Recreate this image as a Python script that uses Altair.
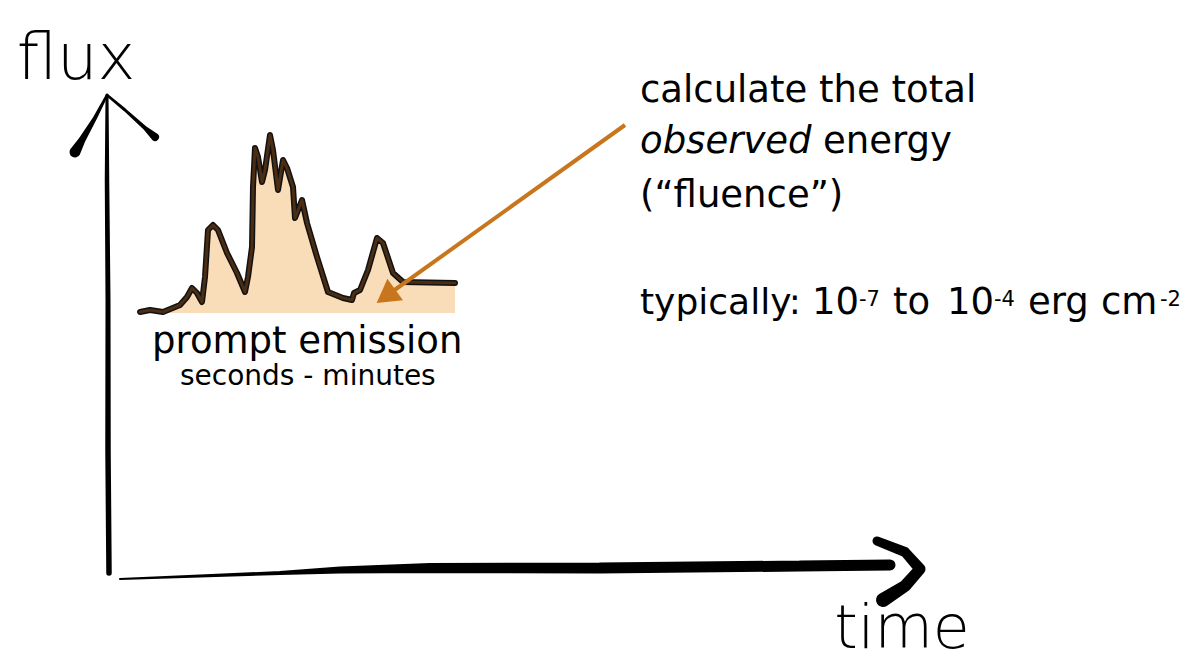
import altair as alt
import pandas as pd

# ---- light curve of the prompt emission (screen-like units) ----
curve_t = [140, 150, 163, 180, 187, 192, 197, 202, 205, 208, 213, 218, 227, 237, 245,
           248, 252, 253, 255, 258, 262, 265, 270, 273, 278, 283, 287, 293, 295, 302,
           307, 317, 328, 343, 352, 354, 360, 368, 377, 383, 393, 403, 455]
curve_f = [312, 310, 312, 305, 297, 288, 293, 302, 277, 230, 225, 230, 253, 273, 292,
           277, 247, 187, 148, 157, 182, 170, 135, 150, 190, 160, 168, 187, 218, 200,
           223, 257, 292, 298, 300, 293, 290, 270, 238, 243, 273, 282, 283]
baseline = 313

# ---- hand-drawn axes strokes: (stroke id, x, y, width) ----
stroke_id = ["ya"] * 5 + ["yl"] * 4 + ["yr"] * 4 + ["xa"] * 8 + ["xh"] * 5
stroke_x = [109, 108, 108, 107, 107,
            75, 82, 95, 107,
            107, 125, 145, 155,
            120, 200, 280, 340, 430, 600, 800, 890,
            877, 905, 920, 905, 883]
stroke_y = [573, 450, 300, 180, 95,
            152, 140, 118, 95,
            95, 110, 128, 137,
            579, 576, 573, 570, 568, 568, 566, 565,
            541, 552, 569, 586, 600]
stroke_w = [5.5, 5.5, 5, 4.5, 3,
            11, 7, 4, 2.5,
            2.5, 3, 4, 8,
            2, 3, 4, 7, 10, 11, 11, 11,
            9, 10, 11, 12, 14]

# ---- arrow ----
arrow_x = [625, 389]
arrow_y = [125, 294]
head_x = [389]
head_y = [294]

# ---- text pieces (normal style) ----
txt = ["calculate the total", "energy", "(\u201cfluence\u201d)",
       "typically:", "10", "-7", "to", "10", "-4", "erg", "cm", "-2",
       "prompt emission", "seconds - minutes"]
txt_x = [640, 823, 640, 640, 812, 859, 893, 947, 994, 1028, 1101, 1160, 152, 180]
txt_y = [102, 153, 207, 314, 314, 306, 314, 314, 306, 314, 314, 306, 353, 385]
txt_s = [37, 37, 37, 36, 37, 21, 37, 37, 21, 37, 37, 21, 37, 28]

FONT = "DejaVu Sans"

curve_df = pd.DataFrame({"x": curve_t, "y": curve_f, "y2": [baseline] * len(curve_t),
                         "i": list(range(len(curve_t)))})
strokes_df = pd.DataFrame({"s": stroke_id, "x": stroke_x, "y": stroke_y, "w": stroke_w,
                           "i": list(range(len(stroke_x)))})
arrow_df = pd.DataFrame({"x": arrow_x, "y": arrow_y})
head_df = pd.DataFrame({"x": head_x, "y": head_y})
txt_df = pd.DataFrame({"x": txt_x, "y": txt_y, "t": txt, "s": txt_s})

xs = alt.Scale(domain=[8, 1181], nice=False, zero=False)
ys = alt.Scale(domain=[8, 663], nice=False, zero=False, reverse=True)
X = alt.X("x:Q", scale=xs, axis=None)
Y = alt.Y("y:Q", scale=ys, axis=None)

area = alt.Chart(curve_df).transform_filter("datum.i >= 2").mark_area(
    color="#F9DCB8", opacity=1).encode(
    x=X, y=Y, y2="y2:Q")
line_outer = alt.Chart(curve_df).mark_line(color="#111111", strokeWidth=6,
                                           strokeCap="round", strokeJoin="round").encode(
    x=X, y=Y, order="i:Q")
line_inner = alt.Chart(curve_df).mark_line(color="#4A2D12", strokeWidth=3,
                                           strokeCap="round", strokeJoin="round").encode(
    x=X, y=Y, order="i:Q")
axes = alt.Chart(strokes_df).mark_trail(color="black").encode(
    x=X, y=Y, size=alt.Size("w:Q", scale=None, legend=None),
    detail="s:N", order="i:Q")
arrow = alt.Chart(arrow_df).mark_line(color="#C8761E", strokeWidth=4).encode(x=X, y=Y)
head = alt.Chart(head_df).mark_point(shape="triangle", filled=True, color="#C8761E",
                                     size=700, angle=234, opacity=1).encode(x=X, y=Y)

texts = alt.Chart(txt_df).mark_text(font=FONT, align="left", baseline="alphabetic",
                                    color="black").encode(
    x=X, y=Y, text="t:N", size=alt.Size("s:Q", scale=None, legend=None))
obs = alt.Chart(pd.DataFrame({"x": [640], "y": [153], "t": ["observed"]})).mark_text(
    font=FONT, fontSize=37, fontStyle="italic", align="left", baseline="alphabetic",
    color="black").encode(x=X, y=Y, text="t:N")
flux = alt.Chart(pd.DataFrame({"x": [76], "y": [79], "t": ["flux"]})).mark_text(
    font=FONT, fontSize=64, fontWeight=200, align="center",
    baseline="alphabetic", color="black").encode(x=X, y=Y, text="t:N")
time = alt.Chart(pd.DataFrame({"x": [902], "y": [648], "t": ["time"]})).mark_text(
    font=FONT, fontSize=60, fontWeight=200, align="center",
    baseline="alphabetic", color="black").encode(x=X, y=Y, text="t:N")

chart = alt.layer(area, line_outer, line_inner, axes, arrow, head, texts, obs, flux, time
                  ).properties(width=1173, height=655, padding=0,
                               autosize=alt.AutoSizeParams(type="none")
                  ).configure_view(stroke=None)

chart.save("out.html", embed_options={"renderer": "svg", "actions": False})
